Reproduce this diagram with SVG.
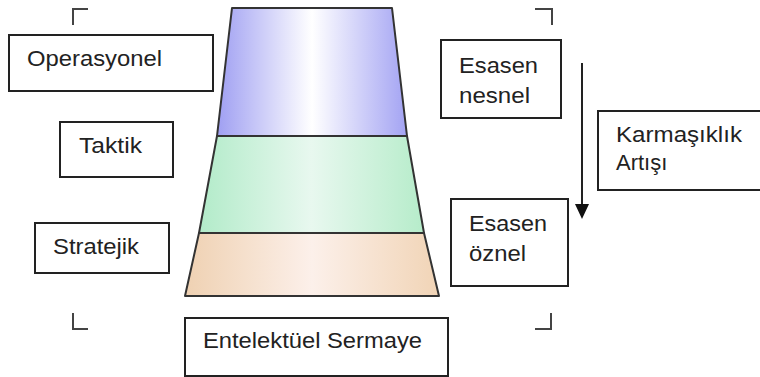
<svg xmlns="http://www.w3.org/2000/svg" width="760" height="377" viewBox="0 0 760 377">
<defs>
<linearGradient id="gBlue" x1="0" y1="0" x2="1" y2="0">
<stop offset="0" stop-color="#9f9ff2"/>
<stop offset="0.5" stop-color="#ffffff"/>
<stop offset="1" stop-color="#a3a3f3"/>
</linearGradient>
<linearGradient id="gGreen" x1="0" y1="0" x2="1" y2="0">
<stop offset="0" stop-color="#b2ebc9"/>
<stop offset="0.5" stop-color="#e8f8ef"/>
<stop offset="1" stop-color="#b6ecca"/>
</linearGradient>
<linearGradient id="gTan" x1="0" y1="0" x2="1" y2="0">
<stop offset="0" stop-color="#efd1b2"/>
<stop offset="0.5" stop-color="#fcf0ea"/>
<stop offset="1" stop-color="#f1d4b6"/>
</linearGradient>
</defs>
<style>
.box{fill:#fff;stroke:#222;stroke-width:2}
.band{stroke:#333;stroke-width:2;stroke-linejoin:round}
.t{font-family:"Liberation Sans",Arial,sans-serif;font-size:22px;fill:#222}
.corner{fill:none;stroke:#444;stroke-width:2}
</style>
<rect width="760" height="377" fill="#fff"/>
<g id="pyramid">
<polygon class="band" fill="url(#gBlue)" points="232,8 392,8 407,136 217,136"/>
<polygon class="band" fill="url(#gGreen)" points="217,136 407,136 424,233 199,233"/>
<polygon class="band" fill="url(#gTan)" points="199,233 424,233 439,296 185,296"/>
</g>
<g id="corners">
<polyline class="corner" points="73,25 73,9 88,9"/>
<polyline class="corner" points="535,9 552,9 552,25"/>
<polyline class="corner" points="73,313 73,329 88,329"/>
<polyline class="corner" points="535,329 551,329 551,313"/>
</g>
<g id="operasyonel">
<rect class="box" x="9" y="35" width="204" height="56"/>
<text class="t" x="27" y="66" textLength="135" lengthAdjust="spacingAndGlyphs">Operasyonel</text>
</g>
<g id="taktik">
<rect class="box" x="60" y="122" width="113" height="55"/>
<text class="t" x="79" y="153" textLength="63" lengthAdjust="spacingAndGlyphs">Taktik</text>
</g>
<g id="stratejik">
<rect class="box" x="35" y="223" width="134" height="50"/>
<text class="t" x="53" y="254" textLength="86" lengthAdjust="spacingAndGlyphs">Stratejik</text>
</g>
<g id="esasen-nesnel">
<rect class="box" x="441" y="40" width="120" height="78"/>
<text class="t" x="459" y="73" textLength="79" lengthAdjust="spacingAndGlyphs">Esasen</text>
<text class="t" x="459" y="103" textLength="71" lengthAdjust="spacingAndGlyphs">nesnel</text>
</g>
<g id="karmasiklik">
<rect class="box" x="598" y="111" width="170" height="79"/>
<text class="t" x="616" y="142" textLength="126" lengthAdjust="spacingAndGlyphs">Karmaşıklık</text>
<text class="t" x="616" y="170">Artışı</text>
</g>
<g id="esasen-oznel">
<rect class="box" x="451" y="199" width="117" height="87"/>
<text class="t" x="469" y="231" textLength="78" lengthAdjust="spacingAndGlyphs">Esasen</text>
<text class="t" x="469" y="261" textLength="57" lengthAdjust="spacingAndGlyphs">öznel</text>
</g>
<g id="entelektuel">
<rect class="box" x="185" y="318" width="263" height="58"/>
<text class="t" x="203" y="348" textLength="219" lengthAdjust="spacingAndGlyphs">Entelektüel Sermaye</text>
</g>
<g id="connectors">
<line x1="582" y1="63" x2="582" y2="206" stroke="#222" stroke-width="2"/>
<polygon points="575,204 589,204 582,219" fill="#111"/>
</g>
</svg>
